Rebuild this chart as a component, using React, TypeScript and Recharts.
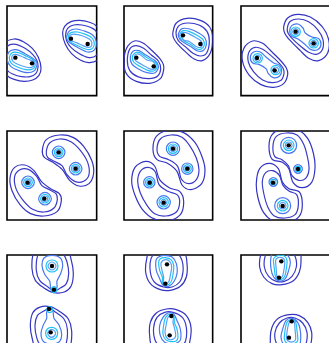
import React from 'react';
import { ComposedChart, Line, Scatter, XAxis, YAxis, ReferenceArea } from 'recharts';

// Coordinates in 3x-zoom units of each row.
// Each panel: box [left, right, top, bottom], row offset (px), dots, contours of the first blob.
// The second blob of each panel is the point reflection of the first through the panel centre.

type C = { level: number; pts: number[] };

const p1Dots = [212, 117, 262, 133, 45, 174, 95, 191];
const p1Contours: C[] = [
  { level: 0, pts: [187, 102, 193, 80, 212, 66, 238, 62, 265, 67, 289, 80, 305, 120, 297, 175, 268, 189, 240, 181, 213, 161, 195, 134] },
  { level: 1, pts: [196, 104, 202, 86, 220, 76, 245, 76, 270, 83, 289, 97, 297, 135, 287, 168, 262, 173, 235, 161, 212, 143, 199, 124] },
  { level: 2, pts: [200, 107, 208, 93, 228, 88, 255, 95, 277, 106, 288, 125, 283, 150, 262, 157, 235, 145, 210, 130, 200, 119] },
  { level: 3, pts: [204, 110, 212, 99, 232, 97, 258, 105, 276, 116, 282, 133, 274, 148, 255, 148, 230, 137, 210, 126] },
  { level: 4, pts: [207, 112, 215, 104, 233, 105, 257, 113, 272, 123, 274, 138, 264, 143, 248, 138, 228, 129, 210, 122] },
];

const p2Dots = [548, 107, 600, 133, 408, 174, 460, 200];
const p2Contours: C[] = [
  { level: 0, pts: [518, 97, 528, 70, 560, 56, 600, 62, 628, 82, 637, 115, 630, 160, 606, 183, 580, 177, 555, 156, 530, 131, 519, 113] },
  { level: 1, pts: [527, 100, 536, 78, 562, 70, 596, 76, 620, 95, 627, 125, 619, 160, 600, 169, 578, 161, 555, 141, 534, 123] },
  { level: 2, pts: [535, 100, 545, 87, 568, 88, 595, 100, 614, 115, 618, 135, 610, 152, 592, 154, 570, 140, 545, 125, 535, 112] },
  { level: 3, pts: [539, 102, 548, 93, 566, 95, 590, 107, 608, 120, 612, 136, 603, 148, 590, 148, 570, 134, 552, 124, 540, 115] },
  { level: 4, pts: [542, 104, 550, 98, 563, 101, 585, 113, 602, 124, 606, 137, 598, 144, 586, 140, 568, 126, 550, 121] },
];

const p3Dots = [886, 96, 940, 131, 770, 175, 823, 212];
const p3Contours: C[] = [
  { level: 0, pts: [850, 82, 862, 55, 893, 44, 930, 52, 965, 80, 985, 120, 982, 160, 955, 183, 925, 176, 898, 151, 870, 123, 854, 102] },
  { level: 1, pts: [861, 85, 870, 65, 895, 58, 925, 66, 952, 90, 968, 120, 966, 150, 948, 164, 925, 158, 900, 139, 875, 116, 863, 100] },
  { level: 2, pts: [868, 95, 874, 78, 893, 73, 908, 85, 915, 100, 935, 112, 955, 117, 962, 135, 952, 150, 932, 150, 915, 135, 893, 118, 874, 110] },
  { level: 3, pts: [900, 96, 896, 106, 886, 110, 876, 106, 872, 96, 876, 86, 886, 82, 896, 86] },
  { level: 3, pts: [954, 131, 950, 141, 940, 145, 930, 141, 926, 131, 930, 121, 940, 117, 950, 121] },
  { level: 4, pts: [895, 96, 892, 102, 886, 105, 880, 102, 877, 96, 880, 90, 886, 87, 892, 90] },
  { level: 4, pts: [949, 131, 946, 137, 940, 140, 934, 137, 931, 131, 934, 125, 940, 122, 946, 125] },
];

const p4Dots = [175, 78, 226, 127, 82, 169, 132, 217];
const p4Contours: C[] = [
  { level: 0, pts: [126, 72, 138, 40, 178, 26, 218, 33, 250, 60, 274, 102, 280, 140, 266, 172, 236, 179, 208, 162, 186, 130, 158, 108, 132, 93] },
  { level: 1, pts: [138, 75, 148, 50, 178, 38, 212, 46, 240, 72, 262, 108, 266, 145, 250, 165, 225, 166, 200, 145, 185, 118, 160, 104, 142, 93] },
  { level: 2, pts: [194, 78, 188, 91, 175, 97, 162, 91, 156, 78, 162, 65, 175, 59, 188, 65] },
  { level: 2, pts: [245, 127, 239, 140, 226, 146, 213, 140, 207, 127, 213, 114, 226, 108, 239, 114] },
  { level: 3, pts: [188, 78, 184, 87, 175, 91, 166, 87, 162, 78, 166, 69, 175, 65, 184, 69] },
  { level: 3, pts: [239, 127, 235, 136, 226, 140, 217, 136, 213, 127, 217, 118, 226, 114, 235, 118] },
  { level: 4, pts: [183, 78, 181, 84, 175, 86, 169, 84, 167, 78, 169, 72, 175, 70, 181, 72] },
  { level: 4, pts: [234, 127, 232, 133, 226, 135, 220, 133, 218, 127, 220, 121, 226, 119, 232, 121] },
];

const p5Dots = [518, 67, 561, 127, 448, 169, 490, 229];
const p5Contours: C[] = [
  { level: 0, pts: [458, 70, 468, 30, 505, 12, 548, 18, 582, 46, 604, 88, 614, 130, 604, 172, 572, 190, 545, 176, 530, 135, 500, 110, 470, 100] },
  { level: 1, pts: [470, 68, 480, 38, 512, 26, 545, 33, 568, 58, 588, 95, 596, 130, 588, 160, 565, 172, 543, 158, 532, 120, 505, 100, 478, 90] },
  { level: 2, pts: [538, 67, 532, 81, 518, 87, 504, 81, 498, 67, 504, 53, 518, 47, 532, 53] },
  { level: 2, pts: [578, 127, 573, 139, 561, 144, 549, 139, 544, 127, 549, 115, 561, 110, 573, 115] },
  { level: 3, pts: [532, 67, 528, 77, 518, 81, 508, 77, 504, 67, 508, 57, 518, 53, 528, 57] },
  { level: 3, pts: [573, 127, 569, 135, 561, 139, 553, 135, 549, 127, 553, 119, 561, 115, 569, 119] },
  { level: 4, pts: [527, 67, 524, 73, 518, 76, 512, 73, 509, 67, 512, 61, 518, 58, 524, 61] },
  { level: 4, pts: [568, 127, 566, 132, 561, 134, 556, 132, 554, 127, 556, 122, 561, 120, 566, 122] },
];

const p6Dots = [865, 57, 893, 128, 818, 169, 847, 239];
const p6Contours: C[] = [
  { level: 0, pts: [806, 58, 816, 24, 850, 6, 892, 10, 922, 36, 939, 80, 944, 125, 934, 168, 905, 184, 878, 168, 866, 128, 846, 108, 815, 98] },
  { level: 1, pts: [818, 58, 828, 30, 858, 20, 890, 26, 910, 54, 922, 95, 926, 130, 916, 156, 895, 162, 875, 148, 864, 118, 845, 100, 823, 90] },
  { level: 2, pts: [889, 57, 882, 74, 865, 81, 848, 74, 841, 57, 848, 40, 865, 33, 882, 40] },
  { level: 2, pts: [906, 128, 902, 137, 893, 141, 884, 137, 880, 128, 884, 119, 893, 115, 902, 119] },
  { level: 3, pts: [881, 57, 876, 68, 865, 73, 854, 68, 849, 57, 854, 46, 865, 41, 876, 46] },
  { level: 3, pts: [901, 128, 899, 134, 893, 136, 887, 134, 885, 128, 887, 122, 893, 120, 899, 122] },
  { level: 4, pts: [875, 57, 872, 64, 865, 67, 858, 64, 855, 57, 858, 50, 865, 47, 872, 50] },
];

const p7Dots = [155, 47, 161, 118, 146, 176, 151, 246];
const p7Contours: C[] = [
  { level: 0, pts: [100, 5, 95, 55, 105, 90, 130, 112, 160, 127, 192, 125, 212, 108, 219, 70, 213, 30, 200, 0, 155, -10, 115, -5] },
  { level: 1, pts: [112, 15, 108, 60, 118, 90, 143, 110, 161, 122, 180, 113, 198, 100, 205, 70, 200, 35, 188, 12, 155, 5, 125, 8] },
  { level: 2, pts: [125, 45, 131, 23, 155, 15, 180, 23, 187, 47, 180, 72, 170, 92, 170, 110, 161, 124, 151, 112, 148, 92, 133, 72] },
  { level: 3, pts: [173, 47, 168, 60, 155, 65, 142, 60, 137, 47, 142, 34, 155, 29, 168, 34] },
  { level: 3, pts: [170, 118, 167, 124, 161, 127, 155, 124, 152, 118, 155, 112, 161, 109, 167, 112] },
  { level: 4, pts: [167, 47, 163, 55, 155, 59, 147, 55, 143, 47, 147, 39, 155, 35, 163, 39] },
];

const p8Dots = [500, 42, 495, 100, 513, 197, 508, 255];
const p8Contours: C[] = [
  { level: 0, pts: [440, 20, 436, 65, 450, 100, 480, 118, 510, 120, 540, 108, 558, 80, 560, 40, 550, 5, 500, -5, 450, 0] },
  { level: 1, pts: [452, 25, 450, 65, 462, 95, 490, 110, 515, 110, 538, 95, 548, 65, 545, 30, 530, 10, 490, 5, 465, 10] },
  { level: 2, pts: [467, 30, 468, 60, 478, 85, 488, 105, 505, 108, 520, 95, 530, 70, 528, 40, 515, 20, 490, 15, 475, 20] },
  { level: 3, pts: [475, 35, 478, 60, 486, 80, 487, 98, 498, 105, 512, 95, 518, 72, 520, 45, 512, 28, 495, 22, 480, 25] },
  { level: 4, pts: [482, 38, 485, 60, 490, 80, 489, 95, 497, 100, 506, 93, 510, 75, 514, 50, 508, 33, 495, 28] },
];

const p9Dots = [843, 33, 836, 82, 874, 213, 866, 262];
const p9Contours: C[] = [
  { level: 0, pts: [782, 10, 778, 50, 790, 80, 815, 100, 845, 103, 878, 92, 897, 65, 902, 30, 895, 0, 840, -10, 795, -5] },
  { level: 1, pts: [795, 15, 792, 50, 805, 78, 828, 93, 852, 93, 875, 78, 888, 50, 885, 20, 870, 5, 830, 0, 805, 5] },
  { level: 2, pts: [812, 20, 812, 55, 820, 80, 838, 92, 855, 85, 865, 60, 870, 35, 862, 15, 840, 8, 820, 10] },
  { level: 3, pts: [820, 25, 822, 55, 826, 80, 838, 88, 852, 80, 858, 55, 860, 30, 852, 17, 835, 15] },
  { level: 4, pts: [826, 30, 828, 60, 830, 80, 838, 85, 847, 76, 852, 50, 853, 30, 845, 22, 833, 22] },
];

const boxes = [
  [20, 289, 19, 288], [371, 637, 19, 288], [722, 990, 19, 288],
  [20, 289, 14, 281], [371, 637, 14, 281], [722, 990, 14, 281],
  [20, 289, 14, 282], [371, 637, 14, 282], [722, 990, 14, 282],
];
const rowOffsets = [0, 0, 0, 126, 126, 126, 250, 250, 250];
const allDots = [p1Dots, p2Dots, p3Dots, p4Dots, p5Dots, p6Dots, p7Dots, p8Dots, p9Dots];
const allContours = [p1Contours, p2Contours, p3Contours, p4Contours, p5Contours, p6Contours, p7Contours, p8Contours, p9Contours];

const COLORS = ['#3434c2', '#3a3ac8', '#4878f0', '#20c2f6', '#56a2f8'];

// Closed Catmull-Rom curve factory (passes through every point), used as the Line's curve type.
function closedSmooth(context: any) {
  let pts: number[][] = [];
  return {
    areaStart() {},
    areaEnd() {},
    lineStart() {
      pts = [];
    },
    point(x: number, y: number) {
      pts.push([+x, +y]);
    },
    lineEnd() {
      const n = pts.length;
      if (n === 0) return;
      context.moveTo(pts[0][0], pts[0][1]);
      if (n < 3) {
        for (let i = 1; i < n; i++) context.lineTo(pts[i][0], pts[i][1]);
        return;
      }
      for (let i = 0; i < n; i++) {
        const p0 = pts[(i - 1 + n) % n];
        const p1 = pts[i];
        const p2 = pts[(i + 1) % n];
        const p3 = pts[(i + 2) % n];
        context.bezierCurveTo(
          p1[0] + (p2[0] - p0[0]) / 6,
          p1[1] + (p2[1] - p0[1]) / 6,
          p2[0] - (p3[0] - p1[0]) / 6,
          p2[1] - (p3[1] - p1[1]) / 6,
          p2[0],
          p2[1]
        );
      }
      context.closePath();
    },
  };
}

const toPts = (flat: number[]) => {
  const out: { x: number; y: number }[] = [];
  for (let i = 0; i < flat.length; i += 2) out.push({ x: flat[i], y: flat[i + 1] });
  return out;
};

const DotShape = (p: any) => <circle cx={p.cx} cy={p.cy} r={2.2} fill="#000" />;

function Panel({ idx }: { idx: number }) {
  const [l, r, t, b] = boxes[idx];
  const off = rowOffsets[idx];
  const cx = (l + r) / 2;
  const cy = (t + b) / 2;
  const w = (r - l) / 3;
  const h = (b - t) / 3;
  const lines: { key: string; level: number; data: { x: number; y: number }[] }[] = [];
  allContours[idx].forEach((c, i) => {
    const a = toPts(c.pts);
    lines.push({ key: `a${i}`, level: c.level, data: a });
    lines.push({ key: `b${i}`, level: c.level, data: a.map((p) => ({ x: 2 * cx - p.x, y: 2 * cy - p.y })) });
  });
  return (
    <div style={{ position: 'absolute', left: l / 3 - 2, top: off + t / 3 - 2 }}>
      <ComposedChart width={w + 4} height={h + 4} margin={{ top: 2, right: 2, bottom: 2, left: 2 }}>
        <XAxis type="number" dataKey="x" domain={[l, r]} allowDataOverflow hide />
        <YAxis type="number" dataKey="y" domain={[t, b]} reversed allowDataOverflow hide />
        {lines.map((ln) => (
          <Line
            key={ln.key}
            data={ln.data}
            dataKey="y"
            type={closedSmooth as any}
            stroke={COLORS[ln.level]}
            strokeWidth={1.2}
            dot={false}
            activeDot={false}
            isAnimationActive={false}
          />
        ))}
        <Scatter data={toPts(allDots[idx])} shape={DotShape} isAnimationActive={false} />
        <ReferenceArea x1={l} x2={r} y1={t} y2={b} fill="none" fillOpacity={0} stroke="#000" strokeWidth={1.6} strokeOpacity={1} ifOverflow="visible" />
      </ComposedChart>
    </div>
  );
}

export default function App() {
  return (
    <div style={{ position: 'absolute', left: 0, top: 0, width: 329, height: 343, overflow: 'hidden', background: '#fff' }}>
      {boxes.map((_, i) => (
        <Panel key={i} idx={i} />
      ))}
    </div>
  );
}
